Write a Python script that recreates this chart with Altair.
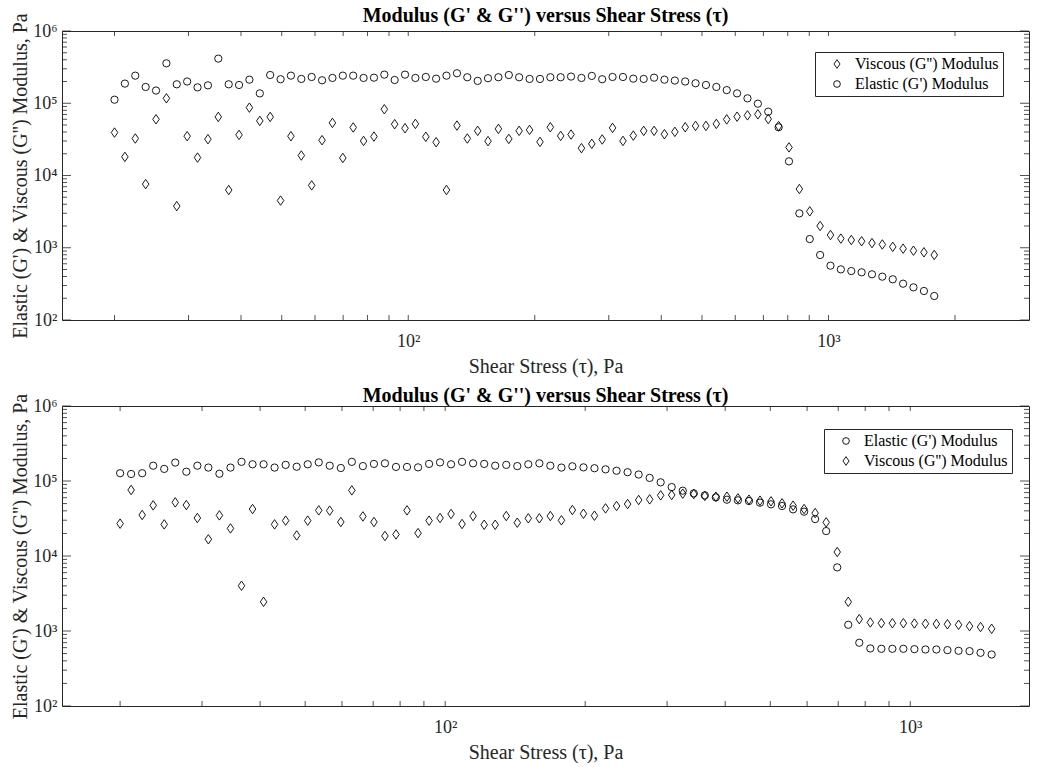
import altair as alt
import pandas as pd

# ---------------- data ----------------
top_stress = [20.0, 21.17, 22.41, 23.72, 25.11, 26.58, 28.13, 29.78, 31.52, 33.37,
              35.32, 37.39, 39.57, 41.88, 44.34, 46.93, 49.68, 52.58, 55.66, 58.91,
              62.36, 66.01, 69.87, 73.96, 78.29, 82.87, 87.72, 92.83, 98.25, 104.0,
              110.1, 116.5, 123.3, 130.6, 138.2, 146.3, 154.8, 163.9, 173.5, 183.6,
              194.4, 205.8, 217.8, 230.5, 244.0, 258.3, 273.4, 289.4, 306.3, 324.3,
              343.2, 363.3, 384.6, 407.0, 430.9, 456.1, 482.7, 511.0, 540.9, 572.6,
              606.0, 641.5, 679.1, 718.8, 760.9, 805.4, 852.5, 902.4, 955.2, 1011,
              1070, 1133, 1199, 1269, 1343, 1422, 1505, 1593, 1687, 1785]
top_elastic = [112000, 187000, 241000, 168000, 150000, 357000, 183000, 200000, 166000, 177000,
               415000, 183000, 179000, 212000, 137000, 246000, 215000, 241000, 217000, 231000,
               208000, 224000, 241000, 241000, 224000, 226000, 249000, 210000, 249000, 224000,
               231000, 219000, 241000, 260000, 229000, 204000, 222000, 229000, 246000, 229000,
               217000, 217000, 229000, 229000, 234000, 224000, 239000, 215000, 231000, 231000,
               219000, 217000, 226000, 212000, 206000, 200000, 189000, 179000, 168000, 152000,
               137000, 117000, 98600, 76400, 46500, 15700, 2990, 1320, 794, 565,
               502, 476, 457, 429, 398, 366, 318, 283, 252, 215]
top_viscous = [39300, 18100, 32500, 7600, 60000, 117000, 3770, 35000, 17700, 31800,
               64700, 6300, 36500, 87000, 57000, 64700, 4500, 35000, 18900, 7300,
               30800, 53500, 17500, 46200, 30100, 34600, 82600, 51300, 45100, 51800,
               34300, 28900, 6300, 49100, 32500, 41500, 29900, 44200, 32100, 41500,
               42800, 29200, 46600, 35300, 36900, 23900, 27400, 31500, 45600, 30100,
               35700, 41500, 41500, 37300, 40200, 46600, 48600, 48600, 51800, 59800,
               65200, 68000, 70300, 60500, 48400, 24500, 6500, 3190, 2000, 1500,
               1340, 1280, 1230, 1160, 1110, 1030, 971, 911, 865, 794]

bot_stress = [20.0, 21.12, 22.31, 23.56, 24.88, 26.28, 27.76, 29.32, 30.96, 32.70,
              34.54, 36.48, 38.53, 40.69, 42.97, 45.39, 47.94, 50.63, 53.47, 56.45,
              59.65, 62.99, 66.53, 70.27, 74.21, 78.38, 82.78, 87.43, 92.34, 97.48,
              102.95, 108.7, 114.8, 121.3, 128.1, 135.3, 142.9, 150.9, 159.4, 168.3,
              177.8, 187.7, 198.3, 209.4, 221.2, 233.6, 246.7, 260.6, 275.2, 290.6,
              306.9, 324.2, 342.4, 361.6, 381.9, 403.4, 426.0, 449.9, 475.2, 501.8,
              530.0, 559.8, 591.2, 624.4, 659.4, 696.5, 735.6, 776.9, 820.5, 866.6,
              915.2, 966.4, 1020.6, 1078, 1138, 1202, 1270, 1341, 1416, 1496]
bot_elastic = [127000, 124000, 127000, 160000, 145000, 176000, 133000, 160000, 151000, 125000,
               151000, 180000, 167000, 167000, 151000, 164000, 155000, 167000, 177000, 160000,
               149000, 180000, 158000, 169000, 172000, 154000, 154000, 152000, 169000, 177000,
               167000, 180000, 172000, 169000, 160000, 164000, 158000, 167000, 172000, 160000,
               151000, 157000, 152000, 148000, 143000, 137000, 131000, 122000, 110000, 96000,
               83000, 74300, 68400, 64400, 60500, 56300, 55200, 54100, 51400, 48900,
               46400, 41900, 39000, 31100, 21500, 7050, 1210, 697, 585, 579,
               579, 579, 573, 567, 567, 556, 545, 539, 512, 486]
bot_viscous = [27000, 75900, 35200, 47300, 26400, 51900, 47800, 32100, 16700, 34800,
               23300, 4010, 42300, 2450, 26400, 29600, 18800, 29600, 40600, 40200,
               28400, 75000, 33700, 28400, 18500, 19400, 40600, 20200, 29600, 32100,
               36300, 26700, 34100, 26100, 26100, 34100, 27800, 31800, 31800, 34100,
               29900, 41000, 36600, 34500, 43100, 46400, 49300, 55800, 56900, 64400,
               65100, 67800, 67000, 63100, 61800, 61800, 58700, 56400, 54700, 53600,
               50400, 46900, 42300, 37400, 28100, 11300, 2450, 1440, 1300, 1270,
               1270, 1270, 1260, 1250, 1240, 1230, 1210, 1160, 1130, 1070]

# tick positions
top_x_ticks = [20, 30, 40, 50, 60, 70, 80, 90, 100, 200, 300, 400, 500, 600, 700, 800, 900, 1000, 2000]
bot_x_ticks = [20, 30, 40, 50, 60, 70, 80, 90, 100, 200, 300, 400, 500, 600, 700, 800, 900, 1000]
x_labels = [100, 1000]
y_major = [100, 1000, 10000, 100000, 1000000]
y_minor = [200, 300, 400, 500, 600, 700, 800, 900,
           2000, 3000, 4000, 5000, 6000, 7000, 8000, 9000,
           20000, 30000, 40000, 50000, 60000, 70000, 80000, 90000,
           200000, 300000, 400000, 500000, 600000, 700000, 800000, 900000]

ELASTIC = "Elastic (G') Modulus"
VISCOUS = "Viscous (G'') Modulus"
TITLE = "Modulus (G' & G'') versus Shear Stress (τ)"
XTITLE = "Shear Stress (τ), Pa"
YTITLE = "Elastic (G') & Viscous (G'') Modulus, Pa"

FONT = "Liberation Serif"
AX = "#262626"
DIAMOND = "M0,-1.3L0.9,0L0,1.3L-0.9,0Z"
SUP = "'10' + ['⁰','¹','²','³','⁴','⁵','⁶'][round(log(datum.value)/LN10)]"
W = 967


def panel(stress, elastic, viscous, order, xdomain, xticks, height, lx, ly):
    n = len(stress)
    df = pd.DataFrame({
        "stress": list(stress) * 2,
        "modulus": list(elastic) + list(viscous),
        "series": [ELASTIC] * n + [VISCOUS] * n,
    })
    xs = alt.Scale(type="log", domain=xdomain, nice=False)
    ys = alt.Scale(type="log", domain=[100, 1000000], nice=False)
    shapes = [DIAMOND if s == VISCOUS else "circle" for s in order]
    xaxis = alt.Axis(values=x_labels, labelExpr=SUP, title=XTITLE, labelFlush=False,
                     labelPadding=12, titlePadding=6, tickSize=0)
    yaxis = alt.Axis(values=y_major, labelExpr=SUP, title=YTITLE, labelFlush=False,
                     labelPadding=5, titlePadding=2, tickSize=0)
    xenc = alt.X("stress:Q", scale=xs, axis=xaxis)
    yenc = alt.Y("modulus:Q", scale=ys, axis=yaxis)

    points = alt.Chart(df).mark_point(
        filled=False, color="#000", strokeWidth=0.9, size=53, opacity=1
    ).encode(
        x=xenc,
        y=yenc,
        shape=alt.Shape("series:N", scale=alt.Scale(domain=order, range=shapes),
                        legend=alt.Legend(title=None, orient="none", legendX=lx, legendY=ly)),
    )

    xdf = pd.DataFrame({"stress": xticks})
    ymaj = pd.DataFrame({"modulus": y_major})
    ymin = pd.DataFrame({"modulus": y_minor})
    rule = dict(color=AX, strokeWidth=0.8)

    layers = [
        points,
        alt.Chart(xdf).mark_rule(**rule).encode(x=xenc, y=alt.value(height), y2=alt.value(height - 5)),
        alt.Chart(xdf).mark_rule(**rule).encode(x=xenc, y=alt.value(0), y2=alt.value(5)),
        alt.Chart(ymaj).mark_rule(**rule).encode(y=yenc, x=alt.value(0), x2=alt.value(9)),
        alt.Chart(ymaj).mark_rule(**rule).encode(y=yenc, x=alt.value(W), x2=alt.value(W - 9)),
        alt.Chart(ymin).mark_rule(**rule).encode(y=yenc, x=alt.value(0), x2=alt.value(5)),
        alt.Chart(ymin).mark_rule(**rule).encode(y=yenc, x=alt.value(W), x2=alt.value(W - 5)),
    ]
    return alt.layer(*layers).properties(
        width=W, height=height,
        title=alt.TitleParams(TITLE, anchor="middle"),
    )


top = panel(top_stress, top_elastic, top_viscous, [VISCOUS, ELASTIC],
            [15, 3000], top_x_ticks, 289, 753, 21)
bottom = panel(bot_stress, bot_elastic, bot_viscous, [ELASTIC, VISCOUS],
               [15, 1800], bot_x_ticks, 300, 762, 23)

chart = alt.vconcat(top, bottom, spacing=86, bounds="flush").resolve_scale(
    shape="independent", x="independent", y="independent"
).resolve_legend(shape="independent").properties(
    padding={"left": 10, "top": 5, "right": 3, "bottom": 0}
).configure(
    font=FONT, background="white"
).configure_view(
    stroke=AX, strokeWidth=1
).configure_axis(
    labelFont=FONT, labelFontSize=18, labelColor=AX,
    titleFont=FONT, titleFontSize=20, titleFontWeight="normal", titleColor=AX,
    grid=False, domain=False, ticks=False,
).configure_title(
    font=FONT, fontSize=20, fontWeight="bold", color="#000", offset=-13
).configure_legend(
    labelFont=FONT, labelFontSize=16, labelColor="#000",
    strokeColor=AX, fillColor="white", padding=4, cornerRadius=0,
    symbolStrokeColor="#000", symbolStrokeWidth=0.9, symbolSize=45,
    symbolOffset=10, labelOffset=10, rowPadding=4,
)

chart.save("out.html", embed_options={"renderer": "svg", "actions": False})
